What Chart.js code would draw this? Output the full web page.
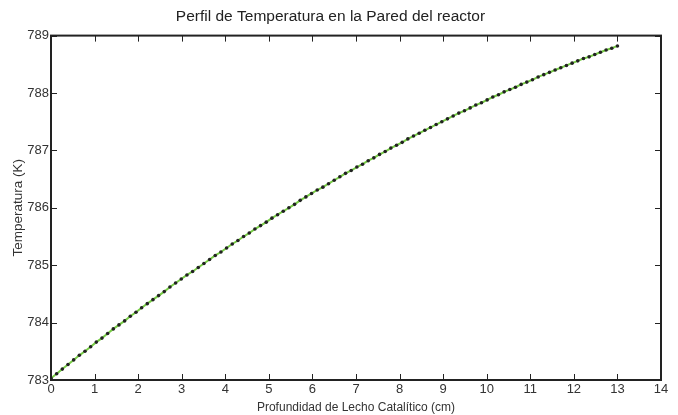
<!DOCTYPE html>
<html>
<head>
<meta charset="utf-8">
<script src="https://cdn.jsdelivr.net/npm/chart.js@4/dist/chart.umd.min.js"></script>
<style>
  html, body { margin: 0; padding: 0; background: #fff; }
  #wrap { width: 678px; height: 415px; }
</style>
</head>
<body>
<div id="wrap"><canvas id="myChart" width="678" height="415"></canvas></div>
<script>
// profundidad (cm)
let depth = [0, 0.13, 0.26, 0.39, 0.52, 0.65, 0.78, 0.91, 1.04, 1.17,
  1.3, 1.43, 1.56, 1.69, 1.82, 1.95, 2.08, 2.21, 2.34, 2.47,
  2.6, 2.73, 2.86, 2.99, 3.12, 3.25, 3.38, 3.51, 3.64, 3.77,
  3.9, 4.03, 4.16, 4.29, 4.42, 4.55, 4.68, 4.81, 4.94, 5.07,
  5.2, 5.33, 5.46, 5.59, 5.72, 5.85, 5.98, 6.11, 6.24, 6.37,
  6.5, 6.63, 6.76, 6.89, 7.02, 7.15, 7.28, 7.41, 7.54, 7.67,
  7.8, 7.93, 8.06, 8.19, 8.32, 8.45, 8.58, 8.71, 8.84, 8.97,
  9.1, 9.23, 9.36, 9.49, 9.62, 9.75, 9.88, 10.01, 10.14, 10.27,
  10.4, 10.53, 10.66, 10.79, 10.92, 11.05, 11.18, 11.31, 11.44, 11.57,
  11.7, 11.83, 11.96, 12.09, 12.22, 12.35, 12.48, 12.61, 12.74, 12.87, 13];

// temperatura de pared (K)
let wallTemp = [783.03, 783.11, 783.19, 783.27, 783.35, 783.43, 783.50, 783.58, 783.66, 783.73,
  783.81, 783.89, 783.96, 784.03, 784.11, 784.18, 784.26, 784.33, 784.40, 784.47,
  784.54, 784.62, 784.69, 784.76, 784.83, 784.89, 784.96, 785.03, 785.10, 785.17,
  785.23, 785.30, 785.37, 785.43, 785.50, 785.56, 785.63, 785.69, 785.75, 785.82,
  785.88, 785.94, 786.00, 786.06, 786.13, 786.19, 786.25, 786.31, 786.36, 786.42,
  786.48, 786.54, 786.60, 786.65, 786.71, 786.76, 786.82, 786.87, 786.93, 786.98,
  787.04, 787.09, 787.14, 787.20, 787.25, 787.30, 787.35, 787.40, 787.45, 787.50,
  787.55, 787.60, 787.65, 787.69, 787.74, 787.79, 787.83, 787.88, 787.93, 787.97,
  788.02, 788.06, 788.10, 788.15, 788.19, 788.23, 788.28, 788.32, 788.36, 788.40,
  788.44, 788.48, 788.52, 788.56, 788.60, 788.63, 788.67, 788.71, 788.75, 788.78, 788.82];

let xTicks = [0, 1, 2, 3, 4, 5, 6, 7, 8, 9, 10, 11, 12, 13, 14];
let yTicks = [783, 784, 785, 786, 787, 788, 789];

let points = depth.map((d, i) => ({ x: d, y: wallTemp[i] }));

// marco y marcas hacia adentro, estilo matlab
const frameTicks = {
  id: 'frameTicks',
  afterDraw(chart) {
    const ctx = chart.ctx;
    const a = chart.chartArea;
    const xs = chart.scales.x, ys = chart.scales.y;
    ctx.save();
    ctx.strokeStyle = '#222';
    ctx.lineWidth = 1;
    xTicks.forEach(v => {
      let px = Math.round(xs.getPixelForValue(v)) + 0.5;
      ctx.beginPath();
      ctx.moveTo(px, a.bottom); ctx.lineTo(px, a.bottom - 6);
      ctx.moveTo(px, a.top); ctx.lineTo(px, a.top + 6);
      ctx.stroke();
    });
    yTicks.forEach(v => {
      let py = Math.round(ys.getPixelForValue(v)) + 0.5;
      ctx.beginPath();
      ctx.moveTo(a.left, py); ctx.lineTo(a.left + 6, py);
      ctx.moveTo(a.right, py); ctx.lineTo(a.right - 6, py);
      ctx.stroke();
    });
    ctx.lineWidth = 2;
    ctx.strokeRect(a.left, a.top, a.right - a.left, a.bottom - a.top);
    ctx.restore();
  }
};

let myChart = document.getElementById('myChart').getContext('2d');

let chart = new Chart(myChart, {
  type: 'line',
  data: {
    datasets: [{
      label: 'T pared',
      data: points,
      borderColor: 'rgb(120, 205, 70)',
      borderWidth: 2,
      pointRadius: 1.8,
      pointBackgroundColor: '#222',
      pointBorderColor: '#222',
      pointBorderWidth: 0,
      tension: 0
    }]
  },
  options: {
    responsive: false,
    animation: false,
    layout: { padding: { left: 0, right: 17, top: 0, bottom: 0 } },
    plugins: {
      legend: { display: false },
      tooltip: { enabled: false },
      title: {
        display: true,
        text: 'Perfil de Temperatura en la Pared del reactor',
        color: '#222',
        font: { family: 'Liberation Sans, Arial', size: 15.5, weight: 'normal' },
        padding: { top: 7, bottom: 10 }
      }
    },
    scales: {
      x: {
        type: 'linear',
        min: 0, max: 14,
        grid: { display: false, drawTicks: false },
        border: { display: false },
        afterBuildTicks: s => { s.ticks = xTicks.map(v => ({ value: v })); },
        afterFit: s => { s.height = 35; },
        ticks: {
          color: '#333',
          padding: 2,
          maxRotation: 0,
          font: { family: 'Liberation Sans, Arial', size: 13 },
          callback: v => v
        },
        title: {
          display: true,
          text: 'Profundidad de Lecho Catalítico (cm)',
          color: '#333',
          padding: 0,
          font: { family: 'Liberation Sans, Arial', size: 12 }
        }
      },
      y: {
        min: 783, max: 789,
        grid: { display: false, drawTicks: false },
        border: { display: false },
        afterBuildTicks: s => { s.ticks = yTicks.map(v => ({ value: v })); },
        afterFit: s => { s.width = 51; },
        ticks: {
          color: '#333',
          padding: 2,
          font: { family: 'Liberation Sans, Arial', size: 13 },
          callback: v => v
        },
        title: {
          display: true,
          text: 'Temperatura (K)',
          color: '#333',
          padding: { top: 10, bottom: 0 },
          font: { family: 'Liberation Sans, Arial', size: 13.5 }
        }
      }
    }
  },
  plugins: [frameTicks]
});
</script>
</body>
</html>
